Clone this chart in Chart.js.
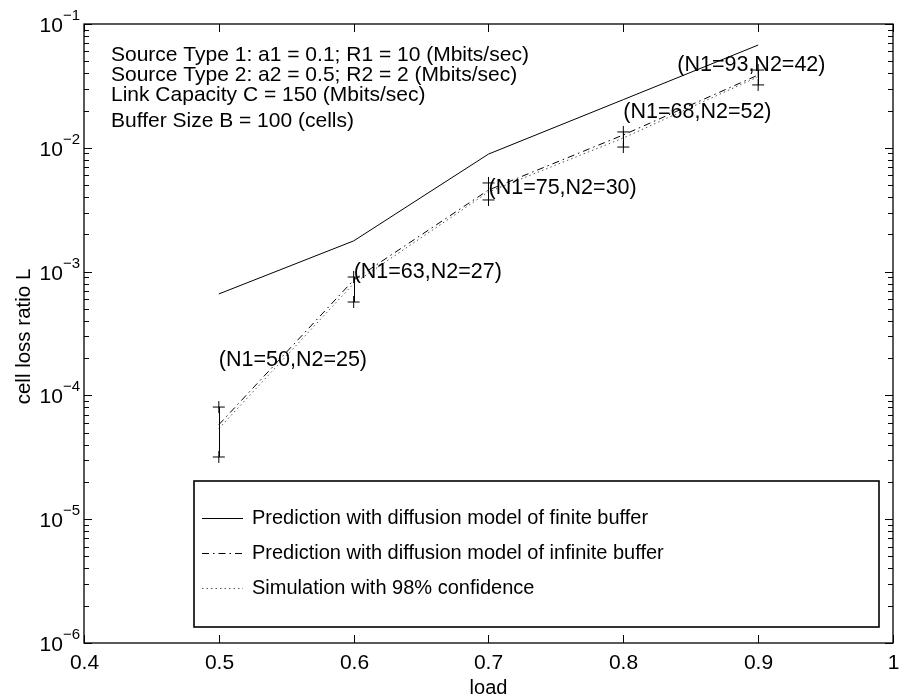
<!DOCTYPE html>
<html>
<head>
<meta charset="utf-8">
<script src="https://cdn.jsdelivr.net/npm/chart.js@4.4.1/dist/chart.umd.min.js"></script>
<style>
  html, body { margin: 0; padding: 0; background: #fff; }
  #wrap { width: 900px; height: 698px; }
</style>
</head>
<body>
<div id="wrap"><canvas id="grafico" width="900" height="698"></canvas></div>
<script>
// dados
const loadValues = [0.5, 0.6, 0.7, 0.8, 0.9];
const finiteBuffer = [6.6e-4, 1.77e-3, 8.9e-3, 0.0245, 0.0676];
const infiniteBuffer = [5.8e-5, 8.55e-4, 4.56e-3, 0.0127, 0.0387];
const simulation = [5.4e-5, 8.0e-4, 4.4e-3, 0.0120, 0.0375];
const simLow = [3.18e-5, 5.68e-4, 3.79e-3, 0.01014, 0.0322];
const simHigh = [8.05e-5, 9.04e-4, 5.2e-3, 0.01343, 0.0425];

const xTicks = [0.4, 0.5, 0.6, 0.7, 0.8, 0.9, 1];
const xTickLabels = ['0.4', '0.5', '0.6', '0.7', '0.8', '0.9', '1'];
const yTickExps = [-1, -2, -3, -4, -5, -6];

const seriesLabels = [
  'Prediction with diffusion model of finite buffer',
  'Prediction with diffusion model of infinite buffer',
  'Simulation with 98% confidence'
];

const annoText = ['(N1=50,N2=25)', '(N1=63,N2=27)', '(N1=75,N2=30)', '(N1=68,N2=52)', '(N1=93,N2=42)'];
const annoX = [0.5, 0.6, 0.7, 0.8, 0.84];
const annoY = [1.93e-4, 1.0e-3, 4.7e-3, 0.0195, 0.0467];

const infoLines = [
  'Source Type 1: a1 = 0.1; R1 = 10 (Mbits/sec)',
  'Source Type 2: a2 = 0.5; R2 = 2 (Mbits/sec)',
  'Link Capacity C = 150 (Mbits/sec)',
  'Buffer Size B = 100 (cells)'
];

const FONT = '"Liberation Sans", Arial, Helvetica, sans-serif';
const toPoints = (ys) => ys.map((y, i) => ({ x: loadValues[i], y: y }));

// plugin que desenha eixos, legenda e textos no estilo da figura
const molduraPlugin = {
  id: 'moldura',
  afterDatasetsDraw(chart) {
    const ctx = chart.ctx;
    const a = chart.chartArea;
    const xs = chart.scales.x;
    const ys = chart.scales.y;
    ctx.save();

    // barras de erro
    ctx.strokeStyle = '#000';
    ctx.lineWidth = 1;
    for (let i = 0; i < loadValues.length; i++) {
      const px = Math.round(xs.getPixelForValue(loadValues[i])) + 0.5;
      ctx.beginPath();
      ctx.moveTo(px, ys.getPixelForValue(simLow[i]));
      ctx.lineTo(px, ys.getPixelForValue(simHigh[i]));
      ctx.stroke();
    }

    // moldura
    ctx.lineWidth = 1.3;
    ctx.strokeRect(a.left, a.top, a.right - a.left, a.bottom - a.top);

    // ticks x
    ctx.lineWidth = 1;
    ctx.fillStyle = '#000';
    ctx.font = '21px ' + FONT;
    ctx.textAlign = 'center';
    ctx.textBaseline = 'middle';
    xTicks.forEach((v, i) => {
      const px = Math.round(xs.getPixelForValue(v)) + 0.5;
      ctx.beginPath();
      ctx.moveTo(px, a.bottom); ctx.lineTo(px, a.bottom - 8);
      ctx.moveTo(px, a.top); ctx.lineTo(px, a.top + 8);
      ctx.stroke();
      ctx.fillText(xTickLabels[i], px, a.bottom + 20);
    });

    // ticks y (log)
    yTickExps.forEach((e) => {
      const py = Math.round(ys.getPixelForValue(Math.pow(10, e))) + 0.5;
      ctx.beginPath();
      ctx.moveTo(a.left, py); ctx.lineTo(a.left + 8, py);
      ctx.moveTo(a.right, py); ctx.lineTo(a.right - 8, py);
      ctx.stroke();
      if (e > -6) {
        for (let m = 2; m <= 9; m++) {
          const my = Math.round(ys.getPixelForValue(m * Math.pow(10, e - 1))) + 0.5;
          ctx.beginPath();
          ctx.moveTo(a.left, my); ctx.lineTo(a.left + 5, my);
          ctx.moveTo(a.right, my); ctx.lineTo(a.right - 5, my);
          ctx.stroke();
        }
      }
      ctx.textAlign = 'right';
      ctx.font = '15px ' + FONT;
      const expText = '\u2212' + Math.abs(e);
      const expW = ctx.measureText(expText).width;
      ctx.fillText(expText, a.left - 4, py - 9);
      ctx.font = '21px ' + FONT;
      ctx.fillText('10', a.left - 4 - expW, py + 2);
    });

    // titulos dos eixos
    ctx.textAlign = 'center';
    ctx.font = '20px ' + FONT;
    ctx.fillText('load', (a.left + a.right) / 2, 688);
    ctx.save();
    ctx.translate(24, (a.top + a.bottom) / 2 + 3);
    ctx.rotate(-Math.PI / 2);
    ctx.font = '20.5px ' + FONT;
    ctx.fillText('cell loss ratio L', 0, 0);
    ctx.restore();

    // texto informativo
    ctx.textAlign = 'left';
    ctx.font = '21px ' + FONT;
    const infoY = [55, 75, 95, 121];
    infoLines.forEach((t, i) => ctx.fillText(t, a.left + 27, infoY[i]));

    // anotacoes (N1, N2)
    ctx.font = '21.5px ' + FONT;
    annoText.forEach((t, i) => {
      ctx.fillText(t, xs.getPixelForValue(annoX[i]), ys.getPixelForValue(annoY[i]));
    });

    // legenda
    ctx.font = '20px ' + FONT;
    ctx.lineWidth = 1.6;
    ctx.strokeRect(194, 481, 685, 146);
    const rowY = [518, 553, 588];
    chart.data.datasets.slice(0, 3).forEach((ds, i) => {
      ctx.beginPath();
      ctx.strokeStyle = ds.borderColor;
      ctx.lineWidth = 1;
      ctx.setLineDash(ds.borderDash || []);
      ctx.moveTo(202, rowY[i] + 0.5);
      ctx.lineTo(243, rowY[i] + 0.5);
      ctx.stroke();
      ctx.setLineDash([]);
      ctx.fillText(seriesLabels[i], 252, rowY[i]);
    });

    ctx.restore();
  }
};

const ctx = document.getElementById('grafico').getContext('2d');

const grafico = new Chart(ctx, {
  type: 'line',
  data: {
    datasets: [
      {
        label: seriesLabels[0],
        data: toPoints(finiteBuffer),
        borderColor: '#000',
        borderWidth: 1,
        pointRadius: 0,
        fill: false
      },
      {
        label: seriesLabels[1],
        data: toPoints(infiniteBuffer),
        borderColor: '#000',
        borderWidth: 1,
        borderDash: [7, 4, 1.5, 4],
        pointRadius: 0,
        fill: false
      },
      {
        label: seriesLabels[2],
        data: toPoints(simulation),
        borderColor: '#555',
        borderWidth: 1,
        borderDash: [1.5, 3],
        pointRadius: 0,
        fill: false
      },
      {
        label: 'limite inferior',
        data: toPoints(simLow),
        showLine: false,
        pointStyle: 'cross',
        pointRadius: 6,
        pointBorderWidth: 1,
        borderColor: '#000'
      },
      {
        label: 'limite superior',
        data: toPoints(simHigh),
        showLine: false,
        pointStyle: 'cross',
        pointRadius: 6,
        pointBorderWidth: 1,
        borderColor: '#000'
      }
    ]
  },
  options: {
    responsive: false,
    animation: false,
    layout: { padding: { left: 84, right: 6, top: 24, bottom: 55 } },
    plugins: {
      legend: { display: false },
      tooltip: { enabled: false }
    },
    scales: {
      x: { type: 'linear', min: 0.4, max: 1, display: false },
      y: { type: 'logarithmic', min: 1e-6, max: 1e-1, display: false }
    }
  },
  plugins: [molduraPlugin]
});
</script>
</body>
</html>
